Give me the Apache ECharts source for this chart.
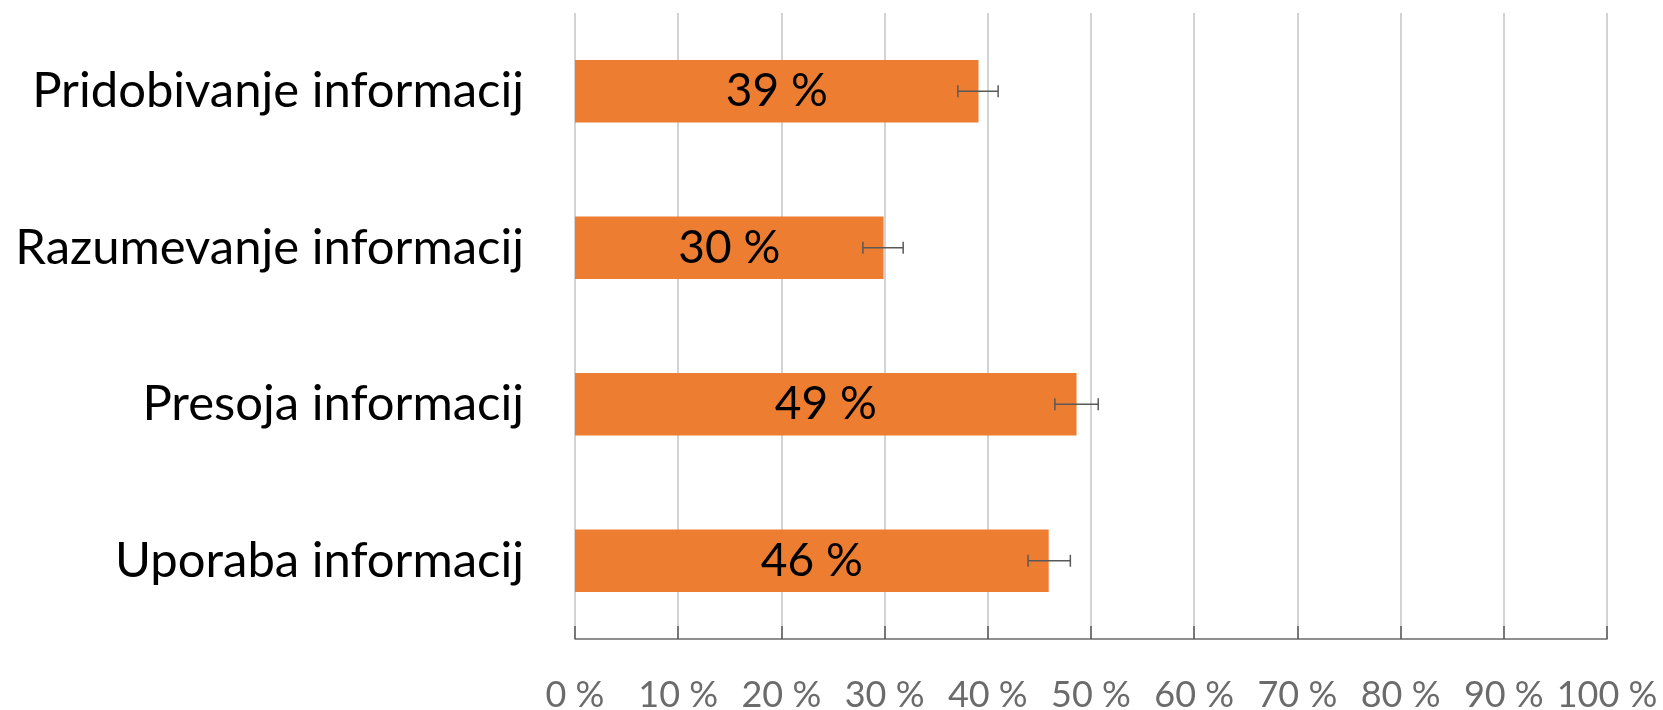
<!DOCTYPE html>
<html>
<head>
<meta charset="utf-8">
<script src="https://cdn.jsdelivr.net/npm/echarts@6/dist/echarts.min.js"></script>
<style>
html,body{margin:0;padding:0;background:#fff;}
#chart{width:1663px;height:710px;}
</style>
</head>
<body>
<div id="chart"></div>
<script>
var categories = ['Pridobivanje informacij', 'Razumevanje informacij', 'Presoja informacij', 'Uporaba informacij'];
var values = [39.1, 29.9, 48.6, 45.9];
var valueLabels = ['39 %', '30 %', '49 %', '46 %'];
var errLow = [37.1, 27.9, 46.5, 43.9];
var errHigh = [41.0, 31.8, 50.7, 48.0];
var xTicks = [0, 10, 20, 30, 40, 50, 60, 70, 80, 90, 100];

var FONT = 'Lato';
var chart = echarts.init(document.getElementById('chart'));
var errData = categories.map(function (c, i) { return [i, errLow[i], errHigh[i]]; });

chart.setOption({
  animation: false,
  backgroundColor: '#ffffff',
  grid: { left: 575, right: 56, top: 13, bottom: 71, containLabel: false, outerBoundsMode: 'none' },
  xAxis: {
    type: 'value', min: xTicks[0], max: xTicks[xTicks.length - 1], interval: 10,
    axisLine: { show: true, lineStyle: { color: '#6b6b6b', width: 1.5 } },
    axisTick: { show: true, inside: true, length: 13, lineStyle: { color: '#595959', width: 1.5 } },
    splitLine: { show: true, lineStyle: { color: '#c4c4c4', width: 1.5 } },
    axisLabel: { color: '#6b6b6b', fontFamily: FONT, fontWeight: 400, fontSize: 36, margin: 38,
      formatter: function (v) { return v + ' %'; } }
  },
  yAxis: {
    type: 'category', data: categories, inverse: true,
    axisLine: { show: false }, axisTick: { show: false }, splitLine: { show: false },
    axisLabel: { color: '#000000', fontFamily: FONT, fontWeight: 400, fontSize: 49, margin: 51, padding: [4, 0, 0, 0] }
  },
  series: [
    {
      type: 'bar', data: values, barCategoryGap: '60%',
      itemStyle: { color: '#ED7D31' },
      label: { show: true, position: 'inside', color: '#000', fontFamily: FONT, fontWeight: 400, fontSize: 46,
        padding: [7, 0, 0, 0],
        formatter: function (p) { return valueLabels[p.dataIndex]; } }
    },
    {
      type: 'custom', data: errData, z: 5,
      renderItem: function (params, api) {
        var y = api.value(0);
        var p1 = api.coord([api.value(1), y]);
        var p2 = api.coord([api.value(2), y]);
        var h = 6;
        var st = { stroke: '#595959', lineWidth: 1.5 };
        return { type: 'group', children: [
          { type: 'line', shape: { x1: p1[0], y1: p1[1], x2: p2[0], y2: p2[1] }, style: st },
          { type: 'line', shape: { x1: p1[0], y1: p1[1] - h, x2: p1[0], y2: p1[1] + h }, style: st },
          { type: 'line', shape: { x1: p2[0], y1: p2[1] - h, x2: p2[0], y2: p2[1] + h }, style: st }
        ] };
      }
    }
  ]
});
</script>
</body>
</html>
